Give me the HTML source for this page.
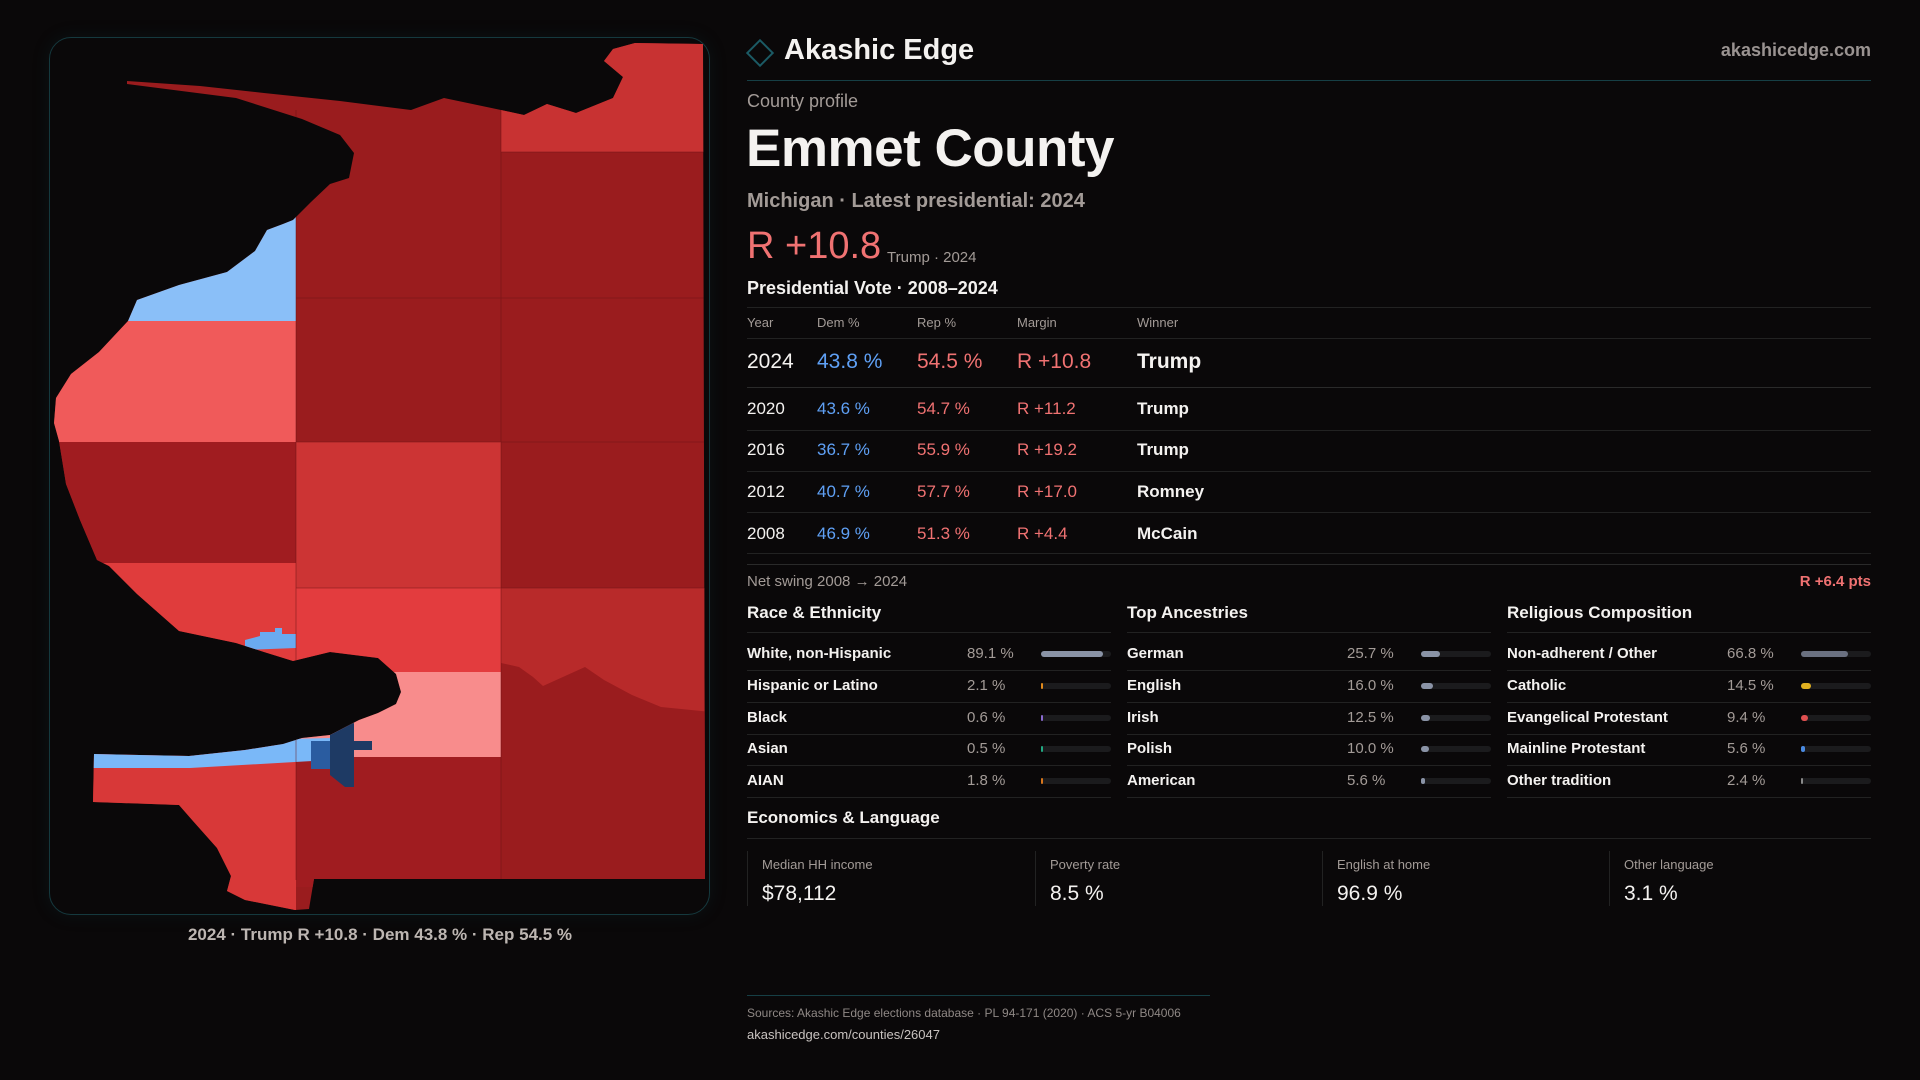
<!DOCTYPE html>
<html><head><meta charset="utf-8"><style>
*{margin:0;padding:0;box-sizing:border-box}
body{width:1920px;height:1080px;background:#0a0809;font-family:"Liberation Sans",sans-serif;color:#f4f2f0;position:relative;overflow:hidden}
.a{position:absolute;white-space:nowrap;line-height:1}
.g{color:#a39b97}
.blue{color:#5fa0f5}.red{color:#f07272}
.hl{position:absolute;height:1px;background:#222}
.bar{position:absolute;height:6px;border-radius:3px;background:#1b1b1d;width:70px}
.bar i{position:absolute;left:0;top:0;height:6px;border-radius:3px}
.mt{position:absolute;top:851px;height:55px;border-left:1px solid #222;padding-left:14px}
</style></head><body>
<div style="position:absolute;left:49px;top:37px;width:661px;height:878px;border:1px solid #15393e;border-radius:22px;box-shadow:0 0 18px rgba(20,80,90,0.15)"></div>
<svg style="position:absolute;left:0;top:0" width="720" height="920">
<defs><clipPath id="land"><polygon points="127,81 200,86 264,93 340,101 411,110 444,98 501,110 524,115 547,104 576,113 613,98 623,77 604,61 613,49 635,43 703,44 705,879 314,879 309,909 295,910 245,900 227,891 231,876 217,848 193,821 179,805 93,802 94,754 189,756 245,750 283,744 302,738 330,735 359,720 378,713 396,704 401,692 396,674 378,658 330,652 293,661 264,652 236,643 179,631 137,594 109,566 97,560 80,520 66,484 59,441 54,423 56,398 71,374 99,352 128,321 137,300 179,285 227,272 255,251 267,230 283,224 293,220 311,202 330,184 349,178 354,153 340,135 302,119 236,98 127,84"/></clipPath></defs>
<g clip-path="url(#land)">
<rect x="40" y="30" width="680" height="900" fill="#9a1c1e"/>
<rect x="40" y="200" width="256" height="121" fill="#8abff8"/>
<rect x="40" y="321" width="256" height="121" fill="#f05a5a"/>
<rect x="40" y="442" width="256" height="121" fill="#a01c20"/>
<rect x="40" y="563" width="256" height="120" fill="#e03c3c"/>
<rect x="40" y="745" width="256" height="180" fill="#d83838"/>
<rect x="296" y="442" width="205" height="146" fill="#cc3434"/>
<rect x="296" y="588" width="205" height="84" fill="#e33c3e"/>
<rect x="296" y="672" width="205" height="85" fill="#f88c8c"/>
<rect x="296" y="757" width="205" height="130" fill="#a01c20"/>
<rect x="501" y="30" width="210" height="122" fill="#c83232"/>
<rect x="501" y="588" width="210" height="300" fill="#b82a2a"/>
<polygon points="501,663 519,667 533,677 543,686 585,667 604,680 632,695 661,707 711,712 711,890 501,890" fill="#9a1c1e"/>
<polygon points="40,745 330,738 330,760 190,768 94,768 40,768" fill="#7ab8f8"/>
<polygon points="245,640 260,636 260,632 275,632 275,628 282,628 282,634 296,634 296,648 245,650" fill="#6aaaf0"/>
<rect x="311" y="741" width="19" height="28" fill="#2a5ca0"/>
<polygon points="330,728 354,723 354,741 372,741 372,750 354,750 354,787 345,787 330,775" fill="#1e3a64"/>
<g stroke="#6a1214" stroke-width="0.8" opacity="0.6">
<line x1="296" y1="110" x2="296" y2="880"/><line x1="501" y1="110" x2="501" y2="880"/>
<line x1="296" y1="298" x2="705" y2="298"/><line x1="296" y1="442" x2="705" y2="442"/><line x1="501" y1="152" x2="705" y2="152"/><line x1="296" y1="588" x2="705" y2="588"/>
</g>
</g>
</svg>
<div class="a" style="left:0;width:760px;text-align:center;top:926px;font-size:17px;color:#bdb6b2;font-weight:bold">2024 · Trump R +10.8 · Dem 43.8 % · Rep 54.5 %</div>

<div style="position:absolute;left:750px;top:43px;width:20px;height:20px;border:2px solid #1b5a64;transform:rotate(45deg)"></div>
<div class="a" style="left:784px;top:36px;font-size:29px;font-weight:bold">Akashic Edge</div>
<div class="a g" style="right:49px;top:41px;font-size:18px;font-weight:bold;color:#9a9391">akashicedge.com</div>
<div class="hl" style="left:747px;width:1124px;top:80px;background:#163f45"></div>
<div class="a g" style="left:747px;top:92px;font-size:18px">County profile</div>
<div class="a" style="left:746px;top:122px;font-size:53px;font-weight:bold;letter-spacing:-0.5px">Emmet County</div>
<div class="a g" style="left:747px;top:191px;font-size:20px;font-weight:bold">Michigan · Latest presidential: 2024</div>
<div class="a red" style="left:747px;top:227px;font-size:38px">R +10.8</div>
<div class="a g" style="left:887px;top:250px;font-size:15px">Trump · 2024</div>
<div class="a" style="left:747px;top:279px;font-size:18px;font-weight:bold">Presidential Vote · 2008–2024</div>
<div class="hl" style="left:747px;width:1124px;top:307px"></div>
<div class="a g" style="left:747px;top:316px;font-size:13px">Year</div>
<div class="a g" style="left:817px;top:316px;font-size:13px">Dem %</div>
<div class="a g" style="left:917px;top:316px;font-size:13px">Rep %</div>
<div class="a g" style="left:1017px;top:316px;font-size:13px">Margin</div>
<div class="a g" style="left:1137px;top:316px;font-size:13px">Winner</div>
<div class="hl" style="left:747px;width:1124px;top:338px"></div>
<div class="a" style="left:747px;top:351px;font-size:21px">2024</div><div class="a blue" style="left:817px;top:351px;font-size:21px">43.8 %</div><div class="a red" style="left:917px;top:351px;font-size:21px">54.5 %</div><div class="a red" style="left:1017px;top:351px;font-size:21px">R +10.8</div><div class="a" style="left:1137px;top:351px;font-size:21px;font-weight:bold">Trump</div>
<div class="hl" style="left:747px;width:1124px;top:387px;background:#2a2a2a"></div>
<div class="a" style="left:747px;top:400px;font-size:17px">2020</div><div class="a blue" style="left:817px;top:400px;font-size:17px">43.6 %</div><div class="a red" style="left:917px;top:400px;font-size:17px">54.7 %</div><div class="a red" style="left:1017px;top:400px;font-size:17px">R +11.2</div><div class="a" style="left:1137px;top:400px;font-size:17px;font-weight:bold">Trump</div>
<div class="hl" style="left:747px;width:1124px;top:430px"></div>
<div class="a" style="left:747px;top:441px;font-size:17px">2016</div><div class="a blue" style="left:817px;top:441px;font-size:17px">36.7 %</div><div class="a red" style="left:917px;top:441px;font-size:17px">55.9 %</div><div class="a red" style="left:1017px;top:441px;font-size:17px">R +19.2</div><div class="a" style="left:1137px;top:441px;font-size:17px;font-weight:bold">Trump</div>
<div class="hl" style="left:747px;width:1124px;top:471px"></div>
<div class="a" style="left:747px;top:483px;font-size:17px">2012</div><div class="a blue" style="left:817px;top:483px;font-size:17px">40.7 %</div><div class="a red" style="left:917px;top:483px;font-size:17px">57.7 %</div><div class="a red" style="left:1017px;top:483px;font-size:17px">R +17.0</div><div class="a" style="left:1137px;top:483px;font-size:17px;font-weight:bold">Romney</div>
<div class="hl" style="left:747px;width:1124px;top:512px"></div>
<div class="a" style="left:747px;top:525px;font-size:17px">2008</div><div class="a blue" style="left:817px;top:525px;font-size:17px">46.9 %</div><div class="a red" style="left:917px;top:525px;font-size:17px">51.3 %</div><div class="a red" style="left:1017px;top:525px;font-size:17px">R +4.4</div><div class="a" style="left:1137px;top:525px;font-size:17px;font-weight:bold">McCain</div>
<div class="hl" style="left:747px;width:1124px;top:553px"></div>
<div class="hl" style="left:747px;width:1124px;top:564px;background:#2a2a2a"></div>
<div class="a g" style="left:747px;top:574px;font-size:15px">Net swing 2008 → 2024</div>
<div class="a red" style="right:49px;top:574px;font-size:15px;font-weight:bold">R +6.4 pts</div>

<div class="a" style="left:747px;top:604px;font-size:17px;font-weight:bold">Race &amp; Ethnicity</div>
<div class="a" style="left:1127px;top:604px;font-size:17px;font-weight:bold">Top Ancestries</div>
<div class="a" style="left:1507px;top:604px;font-size:17px;font-weight:bold">Religious Composition</div>
<div id="cols"></div>
<script>
var cols=[[747,[["White, non-Hispanic","89.1 %",89.1,"#8a93a6"],["Hispanic or Latino","2.1 %",2.1,"#e08a1c"],["Black","0.6 %",0.6,"#8a6ad0"],["Asian","0.5 %",0.5,"#22a882"],["AIAN","1.8 %",1.8,"#d8761c"]]],
[1127,[["German","25.7 %",25.7,"#8a93a6"],["English","16.0 %",16,"#8a93a6"],["Irish","12.5 %",12.5,"#8a93a6"],["Polish","10.0 %",10,"#8a93a6"],["American","5.6 %",5.6,"#8a93a6"]]],
[1507,[["Non-adherent / Other","66.8 %",66.8,"#6a7080"],["Catholic","14.5 %",14.5,"#e0b020"],["Evangelical Protestant","9.4 %",9.4,"#e05050"],["Mainline Protestant","5.6 %",5.6,"#4a8ae0"],["Other tradition","2.4 %",2.4,"#8a8a8a"]]]];
var h="";
cols.forEach(function(c){var x=c[0];
h+='<div class="hl" style="left:'+x+'px;width:364px;top:632px"></div>';
c[1].forEach(function(r,i){var y=654+i*31.8;
h+='<div class="a" style="left:'+x+'px;top:'+(y-8)+'px;font-size:15px;font-weight:bold">'+r[0]+'</div>';
h+='<div class="a g" style="left:'+(x+220)+'px;top:'+(y-8)+'px;font-size:15px">'+r[1]+'</div>';
var w=Math.max(2,70*r[2]/100);if(x==1127)w=Math.max(4,r[2]*0.75);
h+='<div class="bar" style="left:'+(x+294)+'px;top:'+(y-3)+'px"><i style="width:'+w+'px;background:'+r[3]+'"></i></div>';
h+='<div class="hl" style="left:'+x+'px;width:364px;top:'+(y+16)+'px"></div>';});});
document.getElementById("cols").innerHTML=h;
</script>
<div class="a" style="left:747px;top:809px;font-size:17px;font-weight:bold">Economics &amp; Language</div>
<div class="hl" style="left:747px;width:1124px;top:838px"></div>
<div class="mt" style="left:747px"><div class="g" style="font-size:13px;margin-top:6px">Median HH income</div><div style="font-size:21px;margin-top:10px">$78,112</div></div>
<div class="mt" style="left:1035px"><div class="g" style="font-size:13px;margin-top:6px">Poverty rate</div><div style="font-size:21px;margin-top:10px">8.5 %</div></div>
<div class="mt" style="left:1322px"><div class="g" style="font-size:13px;margin-top:6px">English at home</div><div style="font-size:21px;margin-top:10px">96.9 %</div></div>
<div class="mt" style="left:1609px"><div class="g" style="font-size:13px;margin-top:6px">Other language</div><div style="font-size:21px;margin-top:10px">3.1 %</div></div>
<div class="hl" style="left:747px;width:463px;top:995px;background:#163f45"></div>
<div class="a g" style="left:747px;top:1007px;font-size:12px;color:#8f8885">Sources: Akashic Edge elections database · PL 94-171 (2020) · ACS 5-yr B04006</div>
<div class="a" style="left:747px;top:1028px;font-size:13px;color:#c9c3c0">akashicedge.com/counties/26047</div>
</body></html>
